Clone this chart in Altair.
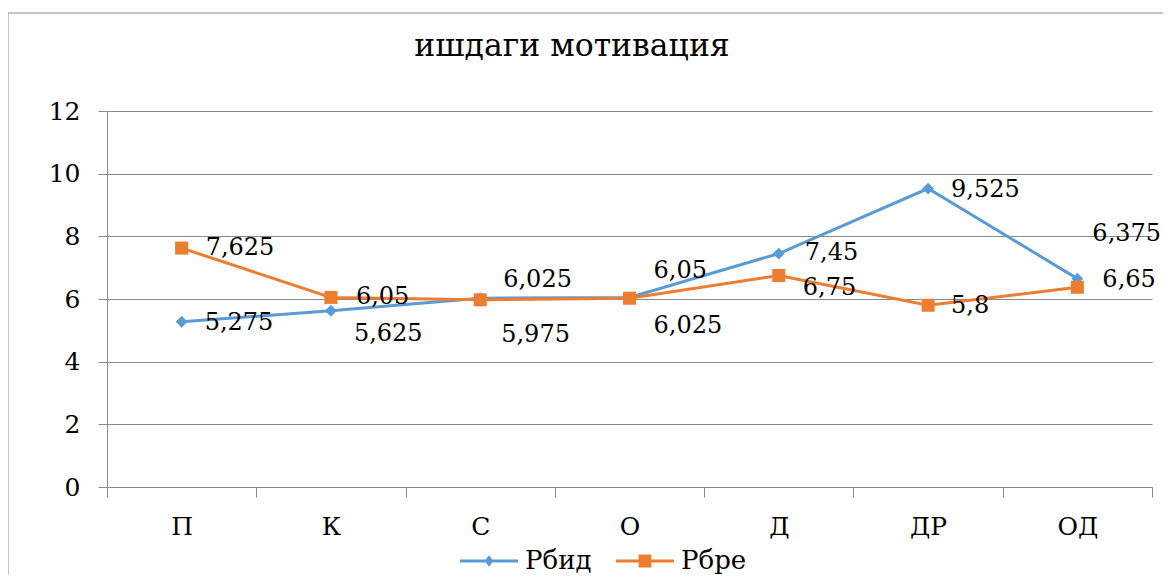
import altair as alt
import pandas as pd

# ---- data ----
categories = ["П", "К", "С", "О", "Д", "ДР", "ОД"]
rbid = [5.275, 5.625, 6.025, 6.05, 7.45, 9.525, 6.65]
rbre = [7.625, 6.05, 5.975, 6.025, 6.75, 5.8, 6.375]
series_names = ["Рбид", "Рбре"]
title_text = "ишдаги мотивация"
y_ticks = [0, 2, 4, 6, 8, 10, 12]

# ---- styling / layout ----
FONT = "DejaVu Serif"
BLUE = "#5B9BD5"
ORANGE = "#ED7D31"
GRID = "#8A8A8A"
W, H = 1045, 376
# data-label offsets (dx, dy) in pixels, one per point
label_offsets = {
    "Рбид": [(23, 1), (23, 23), (23, -18), (24, -26), (26, -1), (23, 1), (25, 1)],
    "Рбре": [(24, 0), (25, 0), (21, 35), (24, 28), (24, 12), (23, 1), (15, -53)],
}
series_color = {"Рбид": BLUE, "Рбре": ORANGE}
series_shape = {"Рбид": "diamond", "Рбре": "square"}
series_size = {"Рбид": 140, "Рбре": 170}
legend_paths = [
    "M-1,-0.05L1,-0.05L1,0.05L-1,0.05Z M0,-0.2L0.15,0L0,0.2L-0.15,0Z",
    "M-1,-0.05L1,-0.05L1,0.05L-1,0.05Z M-0.22,-0.22L0.22,-0.22L0.22,0.22L-0.22,0.22Z",
]

rows = []
for s, vals in zip(series_names, [rbid, rbre]):
    for c, v in zip(categories, vals):
        rows.append({"cat": c, "series": s, "value": v,
                     "label": str(v).replace(".", ",")})
df = pd.DataFrame(rows)

x_enc = alt.X(
    "cat:N", sort=categories,
    scale=alt.Scale(type="band", paddingInner=0, paddingOuter=0),
    axis=alt.Axis(title=None, labelAngle=0, tickBand="extent", grid=False,
                  domainColor=GRID, tickColor=GRID, tickSize=10,
                  labelFont=FONT, labelFontSize=25, labelColor="black",
                  labelPadding=17),
)
y_enc = alt.Y(
    "value:Q",
    scale=alt.Scale(domain=[0, 12], nice=False, zero=True),
    axis=alt.Axis(title=None, values=y_ticks, grid=True, gridColor=GRID,
                  gridWidth=1, domainColor=GRID, tickColor=GRID, tickSize=9,
                  labelFont=FONT, labelFontSize=25, labelColor="black",
                  labelPadding=18, format="d"),
)

base = alt.Chart(df)
one = alt.Chart(pd.DataFrame({"t": [title_text]}))

# chart-area border
border = one.mark_rect(
    fillOpacity=0, stroke="#8C8C8C", strokeWidth=1
).encode(x=alt.value(-99), y=alt.value(-98), x2=alt.value(W + 60), y2=alt.value(H + 120))

# chart title as text
title = one.mark_text(font=FONT, fontSize=31.5, color="black", align="center",
                      baseline="alphabetic").encode(
    x=alt.value(465), y=alt.value(-55), text="t:N")

layers = [border, title]

# legend (layer with no visible rows; legend symbols only)
legend_layer = base.transform_filter(alt.datum.value < -100).mark_point(
    filled=True, opacity=1).encode(
    x=x_enc, y=y_enc,
    color=alt.Color("series:N", sort=series_names,
                    scale=alt.Scale(domain=series_names, range=[BLUE, ORANGE]),
                    legend=alt.Legend(title=None, orient="none", direction="horizontal",
                                      columns=2, legendX=353, legendY=421,
                                      symbolSize=3364, symbolStrokeWidth=0,
                                      symbolOpacity=1,
                                      labelFont=FONT, labelFontSize=26,
                                      labelColor="black", labelOffset=7,
                                      columnPadding=24)),
    shape=alt.Shape("series:N", sort=series_names,
                    scale=alt.Scale(domain=series_names, range=legend_paths)),
)
layers.append(legend_layer)

for s in series_names:
    sub = base.transform_filter(alt.datum.series == s)
    layers.append(sub.mark_line(color=series_color[s], strokeWidth=3).encode(x=x_enc, y=y_enc))
for s in series_names:
    sub = base.transform_filter(alt.datum.series == s)
    layers.append(sub.mark_point(shape=series_shape[s], filled=True, opacity=1,
                                 color=series_color[s], size=series_size[s]
                                 ).encode(x=x_enc, y=y_enc))

for s in series_names:
    for c, (dx, dy) in zip(categories, label_offsets[s]):
        sub = base.transform_filter((alt.datum.series == s) & (alt.datum.cat == c))
        layers.append(sub.mark_text(align="left", baseline="middle", dx=dx, dy=dy,
                                    font=FONT, fontSize=24, color="black"
                                    ).encode(x=x_enc, y=y_enc, text="label:N"))

chart = alt.layer(*layers).properties(
    width=W, height=H,
    autosize=alt.AutoSizeParams(type="none"),
    padding={"left": 99, "top": 103, "right": 11, "bottom": 88},
    background="white",
).configure_view(strokeWidth=0)

chart.save("out.html", embed_options={"renderer": "svg", "actions": False})
